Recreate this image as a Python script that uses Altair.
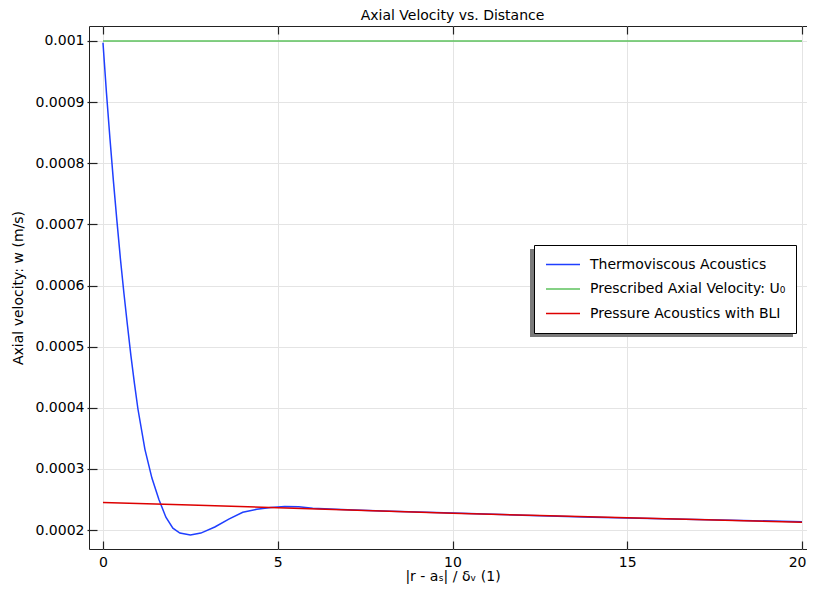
import altair as alt
import pandas as pd

# ---------------- data ----------------
series_names = [
    "Thermoviscous Acoustics",
    "Prescribed Axial Velocity: U\u2080",
    "Pressure Acoustics with BLI",
]
series_colors = ["#1f3fff", "#5cc25c", "#dd0000"]

# Thermoviscous Acoustics (blue)
tv_x = [0, 0.1, 0.2, 0.3, 0.4, 0.5, 0.6, 0.7, 0.8, 0.9, 1.0, 1.2, 1.4, 1.6,
        1.8, 2.0, 2.2, 2.5, 2.8, 3.2, 3.6, 4.0, 4.4, 4.8, 5.2, 5.6, 6.0,
        7, 8, 9, 10, 12, 14, 16, 18, 20]
tv_w = [0.000997, 0.000915, 0.000840, 0.000770, 0.000705, 0.000643,
        0.000587, 0.000535, 0.000485, 0.000440, 0.000398, 0.000332,
        0.000285, 0.000250, 0.000221, 0.000203, 0.000195, 0.000192,
        0.000195, 0.000205, 0.000218, 0.000229, 0.000234, 0.000237,
        0.0002385, 0.000238, 0.0002358, 0.0002333, 0.0002313, 0.0002295,
        0.0002277, 0.0002243, 0.000221, 0.0002183, 0.000216, 0.0002137]

# Prescribed Axial Velocity U0 (green)
u0_x = [0, 20]
u0_w = [0.001, 0.001]

# Pressure Acoustics with BLI (red)
pa_x = [0, 2.5, 5, 7.5, 10, 12.5, 15, 17.5, 20]
pa_w = [0.000245, 0.0002408, 0.0002366, 0.000232, 0.0002275, 0.0002237,
        0.00022, 0.0002163, 0.0002126]

x_ticks = [0, 5, 10, 15, 20]
y_ticks = [0.0002, 0.0003, 0.0004, 0.0005, 0.0006, 0.0007, 0.0008, 0.0009, 0.001]

x_title = "|r - a\u209b| / \u03b4\u1d65 (1)"
y_title = "Axial velocity: w (m/s)"
chart_title = "Axial Velocity vs. Distance"

# ---------------- tables ----------------
df_tv = pd.DataFrame({"x": tv_x, "w": tv_w, "series": series_names[0]})
df_u0 = pd.DataFrame({"x": u0_x, "w": u0_w, "series": series_names[1]})
df_pa = pd.DataFrame({"x": pa_x, "w": pa_w, "series": series_names[2]})

FONT = "DejaVu Sans"
xscale = alt.Scale(domain=[-0.4, 20.4], nice=False, zero=False)
yscale = alt.Scale(domain=[0.000169, 0.0010245], nice=False, zero=False)

color = alt.Color(
    "series:N",
    scale=alt.Scale(domain=series_names, range=series_colors),
    legend=alt.Legend(
        title=None, orient="none", legendX=445, legendY=219,
        strokeColor="black", fillColor="white", padding=10,
        labelFontSize=14, labelFont=FONT, labelColor="black", labelLimit=500,
        symbolType="stroke", symbolSize=1156, symbolStrokeWidth=1.5,
        symbolOffset=1,
        clipHeight=19, rowPadding=5.5, labelOffset=9, cornerRadius=0,
    ),
)

last_label = "datum.value === 20"
x_main = alt.X("x:Q", scale=xscale, axis=alt.Axis(
    orient="bottom", values=x_ticks, format="~g", title=x_title,
    grid=True, gridColor="#e4e4e4", ticks=False, domain=False,
    labelFontSize=14, labelColor="black", labelPadding=6, labelFont=FONT,
    labelAlign={"condition": {"test": last_label, "value": "right"}, "value": "center"},
    labelOffset={"condition": {"test": last_label, "value": 4}, "value": 0},
    titleFontSize=14, titleFontWeight="normal", titleColor="black",
    titlePadding=0, titleFont=FONT))
y_main = alt.Y("w:Q", scale=yscale, axis=alt.Axis(
    orient="left", values=y_ticks, format="~g", title=y_title,
    grid=True, gridColor="#e4e4e4", ticks=False, domain=False,
    labelFontSize=14, labelColor="black", labelPadding=5, labelFont=FONT,
    titleFontSize=14, titleFontWeight="normal", titleColor="black",
    titlePadding=10, titleFont=FONT))

def tick_axis(orient, size, vals):
    return alt.Axis(orient=orient, values=vals, offset=-8, ticks=True,
                    tickSize=size, tickColor="#222", tickWidth=1.2,
                    labels=False, domain=False, grid=False, title=None)

blue = alt.Chart(df_tv).mark_line(strokeWidth=1.5).encode(
    x=x_main, y=y_main, color=color)
green = alt.Chart(df_u0).mark_line(strokeWidth=1.5).encode(
    x=alt.X("x:Q", scale=xscale, axis=None),
    y=alt.Y("w:Q", scale=yscale, axis=None), color=color)
red = alt.Chart(df_pa).mark_line(strokeWidth=1.5).encode(
    x=alt.X("x:Q", scale=xscale, axis=None),
    y=alt.Y("w:Q", scale=yscale, axis=None), color=color)

ticks1 = alt.Chart(df_u0).mark_point(opacity=0).encode(
    x=alt.X("x:Q", scale=xscale, axis=tick_axis("bottom", 8, x_ticks)),
    y=alt.Y("w:Q", scale=yscale, axis=tick_axis("left", 10, y_ticks)))
ticks2 = alt.Chart(df_u0).mark_point(opacity=0).encode(
    x=alt.X("x:Q", scale=xscale, axis=tick_axis("top", 8, x_ticks)),
    y=alt.Y("w:Q", scale=yscale, axis=tick_axis("right", 8, y_ticks)))

shadow = alt.Chart(pd.DataFrame({"k": [0]})).mark_rect(color="#7a7a7a").encode(
    x=alt.value(441), x2=alt.value(704), y=alt.value(223), y2=alt.value(311))

chart = alt.layer(shadow, blue, green, red, ticks1, ticks2).resolve_axis(
    x="independent", y="independent"
).properties(
    width=727, height=523,
    title=alt.TitleParams(chart_title, fontSize=14, fontWeight="normal",
                          font=FONT, color="black", anchor="middle", offset=2),
    autosize=alt.AutoSizeParams(type="none"),
    padding={"left": 81, "top": 18, "right": -9, "bottom": 35},
    background="white",
).configure(font=FONT).configure_view(stroke="#222", strokeWidth=1)

chart.save("out.html", embed_options={"renderer": "svg", "actions": False})
